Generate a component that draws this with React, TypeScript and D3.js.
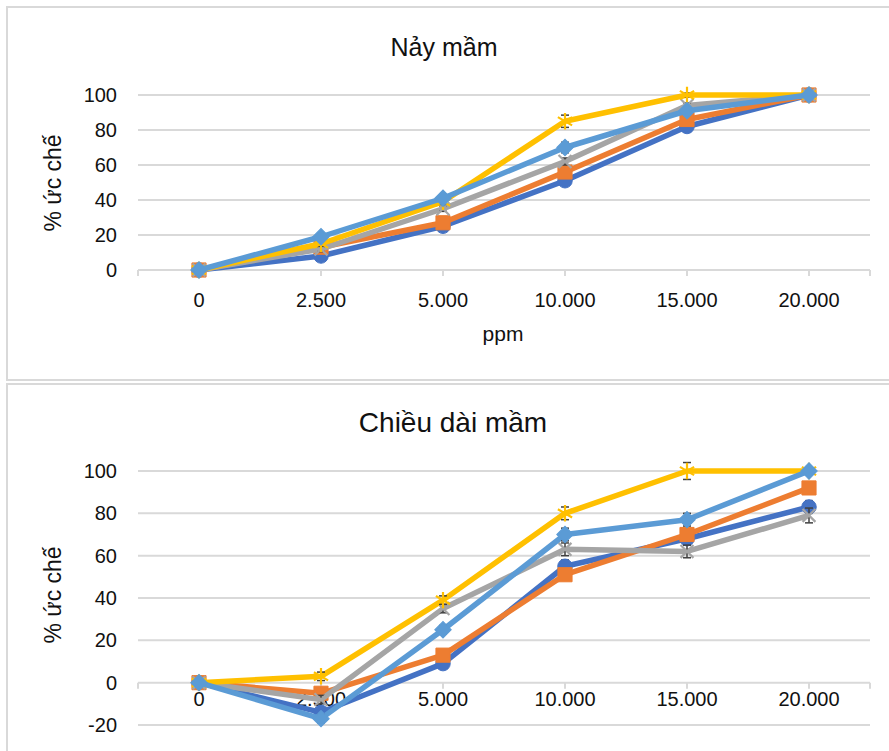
import React from "react";
import * as d3 from "d3";

const categories = ["0", "2.500", "5.000", "10.000", "15.000", "20.000"];
const seriesNames = ["S1", "S2", "S3", "S4", "S5"];
const seriesColors = ["#4472C4", "#ED7D31", "#A5A5A5", "#FFC000", "#5B9BD5"];
const seriesMarkers = ["circle", "square", "times", "asterisk", "diamond"];

// Nảy mầm (% ức chế)
const germDarkBlue = [0, 8, 25, 51, 82, 100];
const germOrange = [0, 13, 27, 56, 86, 100];
const germGray = [0, 12, 35, 62, 94, 100];
const germYellow = [0, 15, 39, 85, 100, 100];
const germLightBlue = [0, 19, 41, 70, 91, 100];
const germErrDarkBlue = [0, 1.5, 1.5, 2, 3, 0];
const germErrOrange = [0, 1.5, 2, 2, 2, 0];
const germErrGray = [0, 1.5, 1.5, 2, 1.5, 0];
const germErrYellow = [0, 1.5, 1.5, 3.5, 1, 0];
const germErrLightBlue = [0, 1.5, 1.5, 3, 1.5, 0];

// Chiều dài mầm (% ức chế)
const lenDarkBlue = [0, -14, 9, 55, 68, 83];
const lenOrange = [0, -5, 13, 51, 70, 92];
const lenGray = [0, -8, 35, 63, 62, 79];
const lenYellow = [0, 3, 39, 80, 100, 100];
const lenLightBlue = [0, -17, 25, 70, 77, 100];
const lenErrDarkBlue = [0, 2, 2, 3, 3, 3];
const lenErrOrange = [0, 2, 2, 2, 2, 2];
const lenErrGray = [0, 2, 2, 3, 3, 3.5];
const lenErrYellow = [0, 2, 2, 3, 4, 1];
const lenErrLightBlue = [0, 2, 2, 3, 3, 1];

const germTicks = [0, 20, 40, 60, 80, 100];
const lenTicks = [-20, 0, 20, 40, 60, 80, 100];

const FONT = "'Liberation Sans', Arial, Helvetica, sans-serif";

type PanelProps = {
  title: string;
  titleX: number;
  titleY: number;
  titleSize: number;
  domain: [number, number];
  range: [number, number];
  ticks: number[];
  values: number[][];
  errors: number[][];
  labelY: number;
  axisTitleY: number;
  xTitle?: string;
  xTitleY?: number;
};

function markerPath(kind: string): { d: string; stroke: boolean; rotate: number } {
  switch (kind) {
    case "circle":
      return { d: d3.symbol(d3.symbolCircle, 165)() as string, stroke: false, rotate: 0 };
    case "square":
      return { d: d3.symbol(d3.symbolSquare, 200)() as string, stroke: false, rotate: 0 };
    case "times":
      return { d: d3.symbol(d3.symbolTimes, 110)() as string, stroke: true, rotate: 0 };
    case "asterisk":
      return { d: d3.symbol(d3.symbolAsterisk, 190)() as string, stroke: true, rotate: 0 };
    default:
      return { d: d3.symbol(d3.symbolSquare, 135)() as string, stroke: false, rotate: 45 };
  }
}

function Panel(p: PanelProps) {
  const x = d3.scaleBand<string>().domain(categories).range([138, 870]);
  const cx = (c: string) => (x(c) as number) + x.bandwidth() / 2;
  const y = d3.scaleLinear().domain(p.domain).range(p.range);
  const line = d3
    .line<number>()
    .x((_, i) => cx(categories[i]))
    .y((v) => y(v));
  const zeroY = y(0);
  const tickXs = [138, ...categories.map(cx), 870];
  return (
    <g>
      <text
        x={p.titleX}
        y={p.titleY}
        textAnchor="middle"
        fontFamily={FONT}
        fontSize={p.titleSize}
        fill="#111"
      >
        {p.title}
      </text>
      {p.ticks.map((t) => (
        <g key={t}>
          <line x1={138} x2={870} y1={y(t)} y2={y(t)} stroke="#d9d9d9" strokeWidth={2} />
          <text
            x={117}
            y={y(t)}
            dy="0.35em"
            textAnchor="end"
            fontFamily={FONT}
            fontSize={20}
            fill="#111"
          >
            {t}
          </text>
        </g>
      ))}
      {tickXs.map((tx, i) => (
        <line key={i} x1={tx} x2={tx} y1={zeroY} y2={zeroY + 6} stroke="#d9d9d9" strokeWidth={2} />
      ))}
      {categories.map((c) => (
        <text
          key={c}
          x={cx(c)}
          y={p.labelY}
          dy="0.35em"
          textAnchor="middle"
          fontFamily={FONT}
          fontSize={20}
          fill="#111"
        >
          {c}
        </text>
      ))}
      <text
        transform={`translate(53,${p.axisTitleY}) rotate(-90)`}
        textAnchor="middle"
        dy="0.35em"
        fontFamily={FONT}
        fontSize={23}
        fill="#111"
      >
        % ức chế
      </text>
      {p.xTitle && (
        <text
          x={503}
          y={p.xTitleY}
          dy="0.35em"
          textAnchor="middle"
          fontFamily={FONT}
          fontSize={21}
          fill="#111"
        >
          {p.xTitle}
        </text>
      )}
      {p.values.map((vals, si) => {
        const color = seriesColors[si];
        const m = markerPath(seriesMarkers[si]);
        return (
          <g key={seriesNames[si]}>
            <path d={line(vals) as string} fill="none" stroke={color} strokeWidth={5.5} strokeLinejoin="round" />
            {vals.map((v, i) => {
              const e = p.errors[si][i];
              const px = cx(categories[i]);
              if (e <= 0) return null;
              return (
                <g key={"e" + i} stroke="#404040" strokeWidth={1.5}>
                  <line x1={px} x2={px} y1={y(v - e)} y2={y(v + e)} />
                  <line x1={px - 4} x2={px + 4} y1={y(v - e)} y2={y(v - e)} />
                  <line x1={px - 4} x2={px + 4} y1={y(v + e)} y2={y(v + e)} />
                </g>
              );
            })}
            {vals.map((v, i) => (
              <path
                key={"m" + i}
                d={m.d}
                transform={`translate(${cx(categories[i])},${y(v)}) rotate(${m.rotate})`}
                fill={m.stroke ? "none" : color}
                stroke={color}
                strokeWidth={m.stroke ? 2.2 : 1}
              />
            ))}
          </g>
        );
      })}
    </g>
  );
}

export default function App() {
  return (
    <svg
      width={889}
      height={751}
      style={{ position: "absolute", left: 0, top: 0, background: "#fff" }}
    >
      <rect x={0} y={0} width={889} height={751} fill="#fff" />
      <rect x={7} y={7} width={900} height={373} fill="#fff" stroke="#d9d9d9" strokeWidth={2} />
      <rect x={7} y={384} width={900} height={420} fill="#fff" stroke="#d9d9d9" strokeWidth={2} />
      <Panel
        title="Nảy mầm"
        titleX={444}
        titleY={56}
        titleSize={25}
        domain={[0, 100]}
        range={[270, 95]}
        ticks={germTicks}
        values={[germDarkBlue, germOrange, germGray, germYellow, germLightBlue]}
        errors={[germErrDarkBlue, germErrOrange, germErrGray, germErrYellow, germErrLightBlue]}
        labelY={300}
        axisTitleY={183}
        xTitle="ppm"
        xTitleY={334}
      />
      <Panel
        title="Chiều dài mầm"
        titleX={453}
        titleY={432}
        titleSize={28}
        domain={[-20, 100]}
        range={[725, 471]}
        ticks={lenTicks}
        values={[lenDarkBlue, lenOrange, lenGray, lenYellow, lenLightBlue]}
        errors={[lenErrDarkBlue, lenErrOrange, lenErrGray, lenErrYellow, lenErrLightBlue]}
        labelY={699}
        axisTitleY={595}
      />
    </svg>
  );
}
